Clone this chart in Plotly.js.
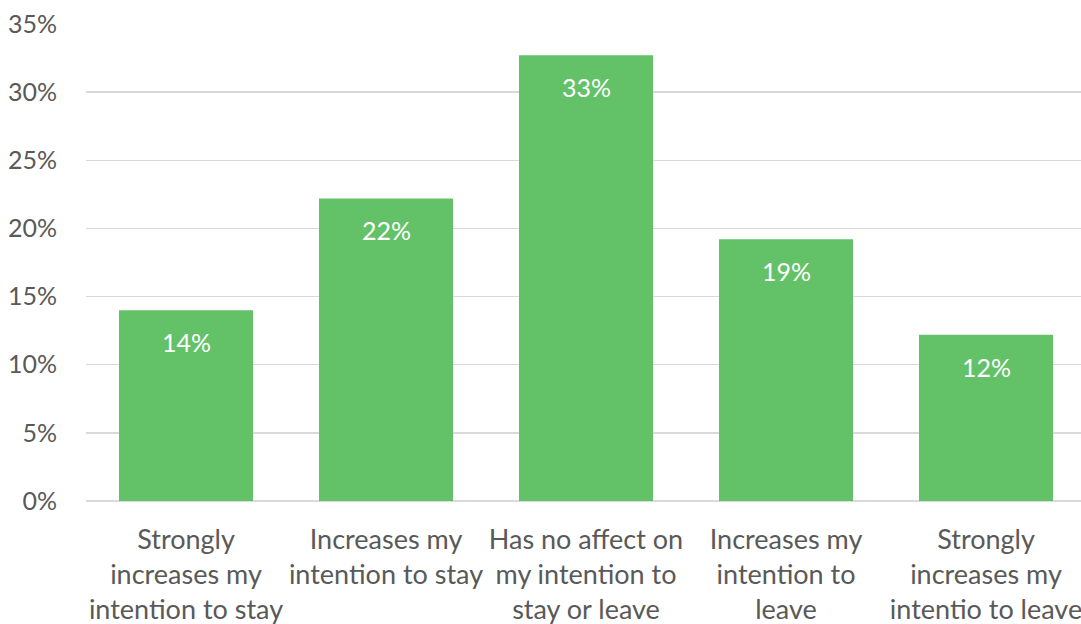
<!DOCTYPE html>
<html>
<head>
<meta charset="utf-8">
<script src="https://cdn.plot.ly/plotly-3.0.1.min.js"></script>
<style>html,body{margin:0;padding:0;background:#fff;}#chart{width:1081px;height:624px;}</style>
</head>
<body>
<div id="chart"></div>
<script>
const categories = [
  "Strongly<br>increases my<br>intention to stay",
  "Increases my<br>intention to stay",
  "Has no affect on<br>my intention to<br>stay or leave",
  "Increases my<br>intention to<br>leave",
  "Strongly<br>increases my<br>intentio to leave"
];
const values = [0.140, 0.222, 0.327, 0.192, 0.122];
const valueLabels = ["14%", "22%", "33%", "19%", "12%"];
const yTickVals = [0, 0.05, 0.10, 0.15, 0.20, 0.25, 0.30, 0.35];

const FONT = "Lato, 'Open Sans', sans-serif";
const trace = {
  type: "bar",
  x: categories,
  y: values,
  marker: {color: "#63C267"},
  hoverinfo: "none"
};
const annotations = categories.map((c, i) => ({
  x: c, y: values[i], xref: "x", yref: "y",
  text: valueLabels[i], showarrow: false,
  yanchor: "middle", yshift: -32,
  font: {family: FONT, size: 25, color: "#ffffff"}
}));
const layout = {
  width: 1081, height: 624,
  margin: {l: 86, r: 0, t: 24, b: 123},
  paper_bgcolor: "#ffffff", plot_bgcolor: "#ffffff",
  showlegend: false,
  bargap: 0.33,
  font: {family: FONT, color: "#595959", size: 25},
  xaxis: {
    type: "category",
    range: [-0.5, 4.475],
    automargin: false,
    showgrid: false, showline: false, zeroline: false,
    ticks: "", ticklabelstandoff: 20,
    tickfont: {family: FONT, size: 27, color: "#595959"}
  },
  yaxis: {
    range: [0, 0.35],
    tickvals: yTickVals,
    tickformat: ".0%",
    automargin: false,
    showgrid: true, gridcolor: "#d9d9d9", gridwidth: 1.5,
    zeroline: true, zerolinecolor: "#d9d9d9", zerolinewidth: 1.5,
    showline: false, ticks: "", ticklabelstandoff: 28,
    tickfont: {family: FONT, size: 25, color: "#595959"}
  },
  annotations: annotations
};
Plotly.newPlot("chart", [trace], layout, {staticPlot: true, displayModeBar: false});
</script>
</body>
</html>
